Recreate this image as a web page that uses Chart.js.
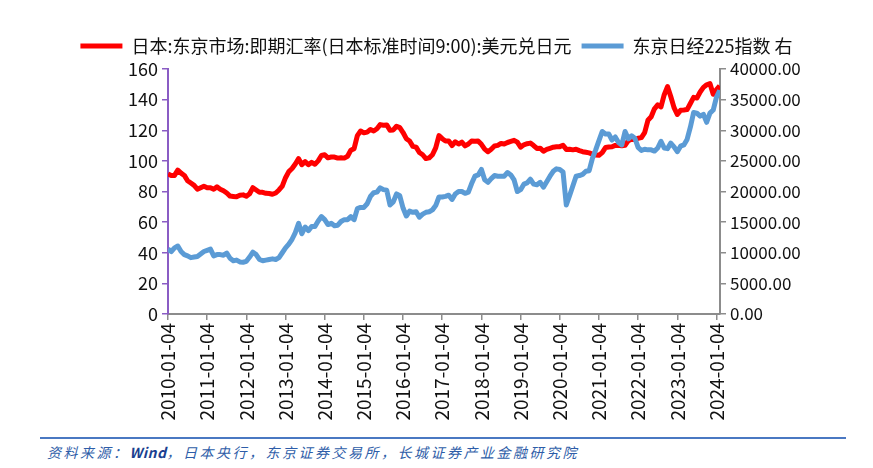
<!DOCTYPE html>
<html>
<head>
<meta charset="utf-8">
<script src="https://cdn.jsdelivr.net/npm/chart.js@4.4.0/dist/chart.umd.min.js"></script>
<style>
  body { margin: 0; background: #fff; }
  #wrap { position: relative; width: 873px; height: 468px; }
  #chart { position: absolute; left: 0; top: 0; }
  #rule { position: absolute; left: 40px; top: 437px; width: 806px; border-top: 2px solid #4a78c2; }
  #source { position: absolute; left: 47px; top: 442px; font: italic 14px "Noto Sans CJK SC", sans-serif;
            letter-spacing: 2.5px; color: #2e5da8; white-space: nowrap; }
  #source b { color: #1a3f8f; letter-spacing: 0.5px; }
</style>
</head>
<body>
<div id="wrap">
  <canvas id="chart" width="873" height="430"></canvas>
  <div id="rule"></div>
  <div id="source">资料来源：<b>Wind</b>，日本央行，东京证券交易所，长城证券产业金融研究院</div>
</div>
<script>
// -------------------------
// Data (monthly, 2010-01 .. 2024-02)
// -------------------------
const firstYear = 2010;
const xTickLabels = ['2010-01-04','2011-01-04','2012-01-04','2013-01-04','2014-01-04','2015-01-04','2016-01-04',
  '2017-01-04','2018-01-04','2019-01-04','2020-01-04','2021-01-04','2022-01-04','2023-01-04','2024-01-04'];

// 日本:东京市场:即期汇率(日本标准时间9:00):美元兑日元
const usdJpy = [
  91.5, 90.5, 90.5, 94, 92, 90.5, 87, 85.5, 84, 81.5, 82.5, 83.5,
  82.5, 82.5, 81.5, 83, 81.5, 80.5, 79, 77, 76.8, 76.5, 77.5, 77.8,
  76.9, 78.5, 82.5, 81, 79.5, 79.5, 78.8, 78.7, 78.2, 79, 81, 83.5,
  89, 93, 95, 98, 101.5, 97.5, 99.5, 97.5, 99, 97.8, 100, 103.5,
  104, 102, 102.5, 102.5, 101.8, 102, 101.8, 103, 107, 108, 116.5, 119.5,
  118.3, 118.8, 120.5, 119.5, 121, 123.7, 123.3, 123.5, 120, 120.2, 122.6, 121.7,
  118.5, 114.5, 113, 109.5, 109, 105.5, 104, 101.5, 102, 104, 108.5, 116.5,
  114.5, 113, 113, 110, 112.5, 111, 112.3, 109.8, 111, 113, 112.8, 112.9,
  110.8, 107.7, 106, 107.6, 109.7, 110.1, 111.4, 111, 112, 112.7, 113.4, 112.2,
  109, 110.5, 111.2, 111.6, 110, 108.1, 108.3, 106.3, 107.5, 108.2, 108.9, 109.2,
  109.3, 110.2, 107.5, 107.6, 107.2, 107.6, 106.7, 106, 105.6, 105.2, 104.4, 103.8,
  103.7, 105.4, 108.7, 109.1, 109.2, 110.1, 110.2, 109.8, 110.2, 113.2, 114.1, 113.9,
  114.8, 115.2, 118.5, 126.5, 128.8, 134, 136.6, 135.2, 143.2, 148.5, 142, 134.8,
  130.3, 133, 133.2, 133.5, 137.5, 141.5, 141, 145, 148, 149.7, 150.5, 143.5,
  146.5, 149
];

// 东京日经225指数
const nikkei = [
  10600, 10200, 10800, 11100, 10200, 9700, 9500, 9200, 9300, 9400, 9800, 10200,
  10400, 10600, 9500, 9700, 9700, 9600, 9950, 9100, 8700, 8800, 8500, 8450,
  8600, 9300, 10100, 9700, 8900, 8700, 8800, 8900, 9000, 8900, 9200, 10000,
  10800, 11400, 12200, 13300, 14800, 13100, 14200, 13600, 14300, 14300, 15200, 15900,
  15400, 14600, 14800, 14400, 14500, 15100, 15400, 15400, 15900, 15400, 17200, 17400,
  17400, 18000, 19200, 19800, 19900, 20600, 20300, 20200, 17800, 18300, 19600, 19300,
  17300, 16000, 16800, 16600, 16700, 15800, 16300, 16600, 16700, 17000, 17700, 19100,
  19100, 19200, 19400, 18700, 19600, 20000, 20000, 19700, 19900, 21300, 22500, 22700,
  23600, 21900, 21500, 22100, 22600, 22500, 22500, 22500, 23100, 22700, 21900, 20000,
  20300, 21200, 21400, 22000, 21200, 21100, 21500, 20700, 21600, 22500, 23300, 23700,
  23600, 23200, 17800, 19300, 20900, 22500, 22600, 22800, 23300, 23400, 25400, 26800,
  28300, 29800, 29400, 29400, 28400, 28900, 28000, 27600, 29800, 28600, 29100, 28700,
  27200, 26700, 26900, 26800, 26800, 26600, 27100, 28200, 27100, 27000, 27900, 27300,
  26500, 27400, 27600, 28500, 30500, 32900, 32800, 32300, 32600, 31300, 32800, 33300,
  35400, 36500
];

// month index -> position in years on the x scale
const toPoints = (arr) => arr.map((v, i) => ({ x: firstYear + i / 12, y: v }));

// -------------------------
// Chart
// -------------------------
Chart.defaults.font.family = '"Noto Sans CJK SC", "Microsoft YaHei", sans-serif';
Chart.defaults.color = '#111';

const purple = '#8a5cc4';
const grey = '#8c8c8c';

// fix the legend band height so the plot area starts where the original does
const legendHeightPlugin = {
  id: 'legendHeight',
  beforeLayout(chart) {
    const lg = chart.legend;
    if (lg && !lg._patched) {
      const origFit = lg.fit.bind(lg);
      lg.fit = function () { origFit(); this.height = 42; };
      lg._patched = true;
    }
  }
};

new Chart(document.getElementById('chart'), {
  type: 'line',
  data: {
    datasets: [{
      label: '日本:东京市场:即期汇率(日本标准时间9:00):美元兑日元',
      data: toPoints(usdJpy),
      yAxisID: 'y',
      borderColor: '#ff0000',
      backgroundColor: '#ff0000',
      borderWidth: 5,
      pointRadius: 0,
      borderJoinStyle: 'round',
      order: 1
    }, {
      label: '东京日经225指数 右',
      data: toPoints(nikkei),
      yAxisID: 'y1',
      borderColor: '#5b9bd5',
      backgroundColor: '#5b9bd5',
      borderWidth: 5,
      pointRadius: 0,
      borderJoinStyle: 'round',
      order: 0
    }]
  },
  options: {
    responsive: false,
    animation: false,
    layout: { padding: { top: 27, left: 0, right: 0, bottom: 0 } },
    plugins: {
      tooltip: { enabled: false },
      legend: {
        position: 'top',
        labels: {
          font: { size: 18 },
          color: '#111',
          boxWidth: 42,
          boxHeight: 5,
          padding: 10,
          generateLabels(chart) {
            const items = Chart.defaults.plugins.legend.labels.generateLabels(chart);
            items.sort((a, b) => a.datasetIndex - b.datasetIndex);
            items.forEach(it => { it.lineWidth = 0; });
            return items;
          }
        }
      }
    },
    scales: {
      x: {
        type: 'linear',
        min: 2010,
        max: 2024.09,
        afterBuildTicks(scale) {
          scale.ticks = xTickLabels.map((l, i) => ({ value: firstYear + i }));
        },
        afterFit(scale) { scale.height = 116; },
        ticks: {
          autoSkip: false,
          minRotation: 90,
          maxRotation: 90,
          padding: 3,
          font: { size: 19 },
          color: '#111',
          callback: (v) => xTickLabels[Math.round(v) - firstYear]
        },
        grid: { drawOnChartArea: false, tickLength: 6, tickColor: grey, lineWidth: 1.5 },
        border: { color: grey, width: 2 }
      },
      y: {
        position: 'left',
        min: 0,
        max: 160,
        afterFit(scale) { scale.width = 168; },
        ticks: { stepSize: 20, font: { size: 18 }, color: '#111', padding: 4 },
        grid: { drawOnChartArea: false, tickLength: 6, tickColor: purple, lineWidth: 1.5 },
        border: { color: purple, width: 2 }
      },
      y1: {
        position: 'right',
        min: 0,
        max: 40000,
        afterFit(scale) { scale.width = 153; },
        ticks: {
          stepSize: 5000,
          font: { size: 17 },
          color: '#111',
          padding: 4,
          callback: (v) => v.toFixed(2)
        },
        grid: { drawOnChartArea: false, tickLength: 6, tickColor: grey, lineWidth: 1.5 },
        border: { color: grey, width: 2 }
      }
    }
  },
  plugins: [legendHeightPlugin]
});
</script>
</body>
</html>
